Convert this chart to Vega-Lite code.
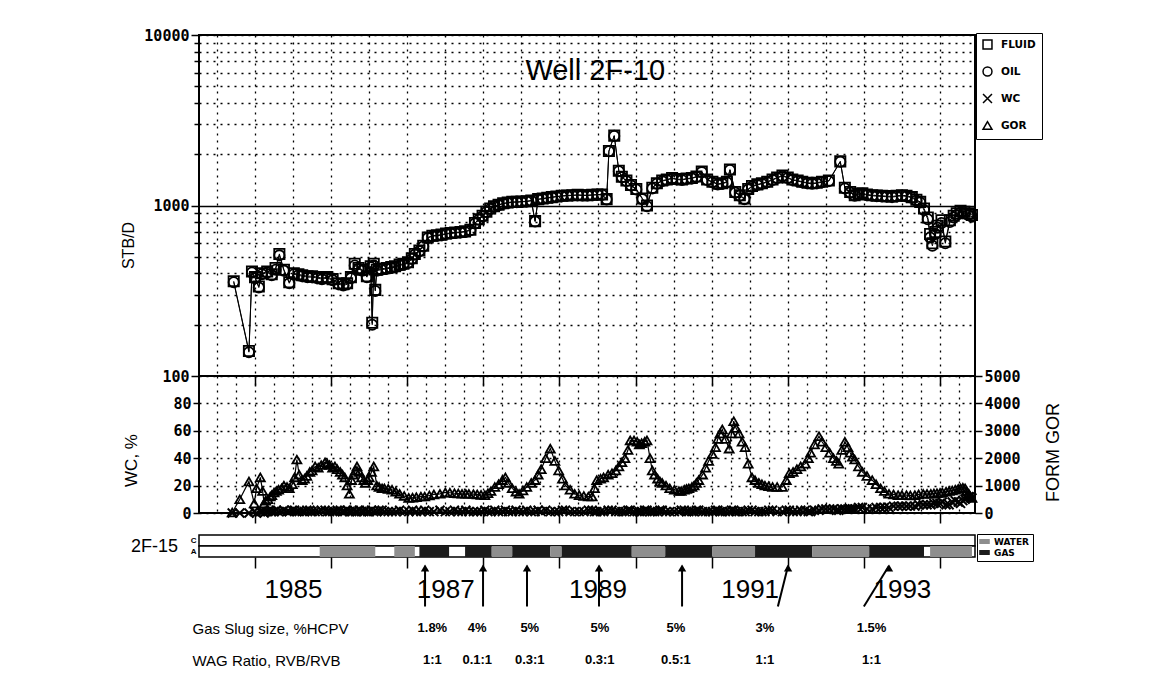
{
  "$schema": "https://vega.github.io/schema/vega-lite/v6.json",
  "background": "white",
  "padding": {"left": 119, "top": 27, "right": 5, "bottom": 0},
  "config": {
    "font": "Liberation Sans",
    "view": {"stroke": "black", "strokeWidth": 2},
    "axis": {"domainColor": "black", "tickColor": "black", "labelColor": "black", "titleColor": "black", "gridColor": "black", "labelOverlap": false}
  },
  "spacing": 0,
  "bounds": "flush",
  "resolve": {"scale": {"shape": "independent", "fill": "independent"}, "legend": {"shape": "independent", "fill": "independent"}},
  "datasets": {
    "rate": [
      {"t":1984.72,"FLUID":360,"OIL":355},{"t":1984.92,"FLUID":140,"OIL":138},{"t":1984.96,"FLUID":410,"OIL":405},
      {"t":1985.00,"FLUID":380,"OIL":375},{"t":1985.05,"FLUID":335,"OIL":330},{"t":1985.09,"FLUID":400,"OIL":395},
      {"t":1985.16,"FLUID":410,"OIL":405},{"t":1985.22,"FLUID":395,"OIL":390},{"t":1985.27,"FLUID":430,"OIL":420},
      {"t":1985.32,"FLUID":520,"OIL":510},{"t":1985.38,"FLUID":420,"OIL":415},{"t":1985.45,"FLUID":355,"OIL":350},
      {"t":1985.51,"FLUID":400,"OIL":395},{"t":1985.57,"FLUID":395,"OIL":390},{"t":1985.62,"FLUID":390,"OIL":385},
      {"t":1985.69,"FLUID":385,"OIL":380},{"t":1985.75,"FLUID":385,"OIL":380},{"t":1985.82,"FLUID":380,"OIL":375},
      {"t":1985.88,"FLUID":375,"OIL":370},{"t":1985.95,"FLUID":380,"OIL":375},{"t":1986.02,"FLUID":370,"OIL":365},
      {"t":1986.10,"FLUID":350,"OIL":345},{"t":1986.16,"FLUID":345,"OIL":340},{"t":1986.21,"FLUID":350,"OIL":345},
      {"t":1986.26,"FLUID":380,"OIL":375},{"t":1986.31,"FLUID":455,"OIL":445},{"t":1986.36,"FLUID":430,"OIL":425},
      {"t":1986.41,"FLUID":420,"OIL":415},{"t":1986.47,"FLUID":385,"OIL":380},{"t":1986.52,"FLUID":440,"OIL":435},
      {"t":1986.54,"FLUID":205,"OIL":200},{"t":1986.56,"FLUID":455,"OIL":445},{"t":1986.58,"FLUID":320,"OIL":315},
      {"t":1986.60,"FLUID":420,"OIL":415},{"t":1986.66,"FLUID":425,"OIL":420},{"t":1986.73,"FLUID":430,"OIL":425},
      {"t":1986.79,"FLUID":435,"OIL":430},{"t":1986.84,"FLUID":440,"OIL":435},{"t":1986.90,"FLUID":450,"OIL":445},
      {"t":1986.95,"FLUID":455,"OIL":450},{"t":1987.01,"FLUID":465,"OIL":460},{"t":1987.06,"FLUID":490,"OIL":485},
      {"t":1987.10,"FLUID":520,"OIL":515},{"t":1987.16,"FLUID":545,"OIL":540},{"t":1987.21,"FLUID":580,"OIL":575},
      {"t":1987.27,"FLUID":650,"OIL":645},{"t":1987.33,"FLUID":665,"OIL":660},{"t":1987.39,"FLUID":670,"OIL":665},
      {"t":1987.45,"FLUID":675,"OIL":670},{"t":1987.51,"FLUID":685,"OIL":680},{"t":1987.57,"FLUID":690,"OIL":685},
      {"t":1987.63,"FLUID":695,"OIL":690},{"t":1987.70,"FLUID":700,"OIL":695},{"t":1987.76,"FLUID":705,"OIL":700},
      {"t":1987.83,"FLUID":720,"OIL":715},{"t":1987.89,"FLUID":790,"OIL":785},{"t":1987.94,"FLUID":830,"OIL":825},
      {"t":1987.99,"FLUID":870,"OIL":865},{"t":1988.04,"FLUID":920,"OIL":915},{"t":1988.09,"FLUID":960,"OIL":955},
      {"t":1988.14,"FLUID":990,"OIL":985},{"t":1988.20,"FLUID":1010,"OIL":1005},{"t":1988.26,"FLUID":1030,"OIL":1025},
      {"t":1988.32,"FLUID":1040,"OIL":1035},{"t":1988.38,"FLUID":1050,"OIL":1045},{"t":1988.44,"FLUID":1050,"OIL":1045},
      {"t":1988.50,"FLUID":1055,"OIL":1050},{"t":1988.57,"FLUID":1060,"OIL":1055},{"t":1988.63,"FLUID":1070,"OIL":1065},
      {"t":1988.68,"FLUID":810,"OIL":805},{"t":1988.72,"FLUID":1090,"OIL":1085},{"t":1988.78,"FLUID":1100,"OIL":1095},
      {"t":1988.84,"FLUID":1110,"OIL":1105},{"t":1988.90,"FLUID":1120,"OIL":1115},{"t":1988.96,"FLUID":1130,"OIL":1125},
      {"t":1989.03,"FLUID":1140,"OIL":1135},{"t":1989.10,"FLUID":1145,"OIL":1140},{"t":1989.17,"FLUID":1150,"OIL":1145},
      {"t":1989.24,"FLUID":1155,"OIL":1150},{"t":1989.30,"FLUID":1150,"OIL":1145},{"t":1989.37,"FLUID":1150,"OIL":1145},
      {"t":1989.43,"FLUID":1155,"OIL":1150},{"t":1989.50,"FLUID":1160,"OIL":1155},{"t":1989.56,"FLUID":1160,"OIL":1155},
      {"t":1989.62,"FLUID":1090,"OIL":1085},{"t":1989.65,"FLUID":2090,"OIL":2080},{"t":1989.72,"FLUID":2570,"OIL":2560},
      {"t":1989.78,"FLUID":1600,"OIL":1590},{"t":1989.82,"FLUID":1475,"OIL":1465},{"t":1989.88,"FLUID":1400,"OIL":1390},
      {"t":1989.94,"FLUID":1320,"OIL":1310},{"t":1990.01,"FLUID":1250,"OIL":1240},{"t":1990.09,"FLUID":1100,"OIL":1090},
      {"t":1990.15,"FLUID":1000,"OIL":990},{"t":1990.22,"FLUID":1270,"OIL":1260},{"t":1990.28,"FLUID":1350,"OIL":1340},
      {"t":1990.35,"FLUID":1400,"OIL":1390},{"t":1990.41,"FLUID":1420,"OIL":1410},{"t":1990.48,"FLUID":1450,"OIL":1440},
      {"t":1990.54,"FLUID":1430,"OIL":1420},{"t":1990.61,"FLUID":1420,"OIL":1410},{"t":1990.67,"FLUID":1440,"OIL":1430},
      {"t":1990.74,"FLUID":1450,"OIL":1440},{"t":1990.80,"FLUID":1480,"OIL":1470},{"t":1990.87,"FLUID":1580,"OIL":1570},
      {"t":1990.94,"FLUID":1420,"OIL":1410},{"t":1991.01,"FLUID":1380,"OIL":1370},{"t":1991.08,"FLUID":1340,"OIL":1330},
      {"t":1991.14,"FLUID":1350,"OIL":1340},{"t":1991.20,"FLUID":1380,"OIL":1370},{"t":1991.24,"FLUID":1625,"OIL":1615},
      {"t":1991.31,"FLUID":1200,"OIL":1190},{"t":1991.37,"FLUID":1150,"OIL":1140},{"t":1991.43,"FLUID":1100,"OIL":1090},
      {"t":1991.48,"FLUID":1250,"OIL":1240},{"t":1991.53,"FLUID":1300,"OIL":1290},{"t":1991.60,"FLUID":1330,"OIL":1320},
      {"t":1991.66,"FLUID":1350,"OIL":1340},{"t":1991.73,"FLUID":1380,"OIL":1370},{"t":1991.80,"FLUID":1420,"OIL":1410},
      {"t":1991.86,"FLUID":1460,"OIL":1450},{"t":1991.93,"FLUID":1500,"OIL":1490},{"t":1992.00,"FLUID":1460,"OIL":1450},
      {"t":1992.06,"FLUID":1420,"OIL":1410},{"t":1992.13,"FLUID":1400,"OIL":1390},{"t":1992.19,"FLUID":1380,"OIL":1370},
      {"t":1992.26,"FLUID":1360,"OIL":1350},{"t":1992.32,"FLUID":1350,"OIL":1340},{"t":1992.38,"FLUID":1360,"OIL":1350},
      {"t":1992.45,"FLUID":1380,"OIL":1370},{"t":1992.54,"FLUID":1400,"OIL":1390},{"t":1992.69,"FLUID":1815,"OIL":1805},
      {"t":1992.75,"FLUID":1270,"OIL":1260},{"t":1992.82,"FLUID":1200,"OIL":1190},{"t":1992.88,"FLUID":1150,"OIL":1140},
      {"t":1992.93,"FLUID":1170,"OIL":1160},{"t":1992.98,"FLUID":1180,"OIL":1170},{"t":1993.04,"FLUID":1160,"OIL":1150},
      {"t":1993.11,"FLUID":1150,"OIL":1140},{"t":1993.17,"FLUID":1145,"OIL":1135},{"t":1993.24,"FLUID":1140,"OIL":1130},
      {"t":1993.30,"FLUID":1135,"OIL":1125},{"t":1993.37,"FLUID":1130,"OIL":1120},{"t":1993.43,"FLUID":1140,"OIL":1130},
      {"t":1993.50,"FLUID":1150,"OIL":1140},{"t":1993.56,"FLUID":1140,"OIL":1130},{"t":1993.63,"FLUID":1120,"OIL":1110},
      {"t":1993.69,"FLUID":1080,"OIL":1070},{"t":1993.74,"FLUID":1050,"OIL":1040},{"t":1993.79,"FLUID":960,"OIL":940},
      {"t":1993.84,"FLUID":850,"OIL":830},{"t":1993.87,"FLUID":680,"OIL":650},{"t":1993.90,"FLUID":600,"OIL":580},
      {"t":1993.94,"FLUID":700,"OIL":680},{"t":1993.97,"FLUID":760,"OIL":740},{"t":1994.02,"FLUID":820,"OIL":790},
      {"t":1994.07,"FLUID":615,"OIL":600},{"t":1994.13,"FLUID":820,"OIL":800},{"t":1994.18,"FLUID":870,"OIL":850},
      {"t":1994.22,"FLUID":900,"OIL":880},{"t":1994.27,"FLUID":930,"OIL":910},{"t":1994.32,"FLUID":920,"OIL":900},
      {"t":1994.37,"FLUID":900,"OIL":880},{"t":1994.42,"FLUID":880,"OIL":860}
    ],
    "gor": [
      {"t":1984.70,"WC":0,"GOR":20},{"t":1984.80,"WC":0,"GOR":500},{"t":1984.92,"WC":0,"GOR":1150},
      {"t":1984.99,"WC":1,"GOR":350},{"t":1985.02,"WC":0,"GOR":900},{"t":1985.07,"WC":1,"GOR":1300},
      {"t":1985.10,"WC":1,"GOR":800},{"t":1985.12,"WC":0,"GOR":350},{"t":1985.14,"WC":1,"GOR":450},
      {"t":1985.17,"WC":1,"GOR":500},{"t":1985.20,"WC":2,"GOR":600},{"t":1985.22,"WC":1,"GOR":650},
      {"t":1985.25,"WC":1,"GOR":750},{"t":1985.28,"WC":2,"GOR":800},{"t":1985.31,"WC":1,"GOR":850},
      {"t":1985.35,"WC":1,"GOR":900},{"t":1985.38,"WC":2,"GOR":1000},{"t":1985.42,"WC":1,"GOR":950},
      {"t":1985.45,"WC":1,"GOR":900},{"t":1985.49,"WC":2,"GOR":1050},{"t":1985.52,"WC":2,"GOR":1300},
      {"t":1985.55,"WC":1,"GOR":1950},{"t":1985.58,"WC":1,"GOR":1400},{"t":1985.62,"WC":1,"GOR":1200},
      {"t":1985.65,"WC":1,"GOR":1250},{"t":1985.68,"WC":2,"GOR":1350},{"t":1985.72,"WC":2,"GOR":1500},
      {"t":1985.75,"WC":1,"GOR":1550},{"t":1985.79,"WC":1,"GOR":1700},{"t":1985.83,"WC":1,"GOR":1650},
      {"t":1985.87,"WC":2,"GOR":1750},{"t":1985.92,"WC":2,"GOR":1850},{"t":1985.95,"WC":1,"GOR":1800},
      {"t":1985.98,"WC":1,"GOR":1750},{"t":1986.02,"WC":1,"GOR":1650},{"t":1986.05,"WC":1,"GOR":1700},
      {"t":1986.08,"WC":2,"GOR":1600},{"t":1986.12,"WC":2,"GOR":1500},{"t":1986.15,"WC":1,"GOR":1400},
      {"t":1986.18,"WC":1,"GOR":1300},{"t":1986.21,"WC":2,"GOR":1000},{"t":1986.24,"WC":1,"GOR":700},
      {"t":1986.27,"WC":1,"GOR":1200},{"t":1986.29,"WC":2,"GOR":1400},{"t":1986.32,"WC":1,"GOR":1550},
      {"t":1986.34,"WC":1,"GOR":1700},{"t":1986.37,"WC":2,"GOR":1500},{"t":1986.40,"WC":1,"GOR":1300},
      {"t":1986.43,"WC":1,"GOR":1200},{"t":1986.45,"WC":2,"GOR":1100},{"t":1986.48,"WC":1,"GOR":1200},
      {"t":1986.50,"WC":1,"GOR":1300},{"t":1986.53,"WC":2,"GOR":1500},{"t":1986.56,"WC":1,"GOR":1700},
      {"t":1986.60,"WC":1,"GOR":1000},{"t":1986.63,"WC":2,"GOR":950},{"t":1986.67,"WC":2,"GOR":900},
      {"t":1986.70,"WC":1,"GOR":900},{"t":1986.75,"WC":1,"GOR":880},{"t":1986.80,"WC":1,"GOR":850},
      {"t":1986.85,"WC":1,"GOR":780},{"t":1986.90,"WC":2,"GOR":700},{"t":1986.96,"WC":1,"GOR":620},
      {"t":1987.02,"WC":1,"GOR":550},{"t":1987.07,"WC":2,"GOR":560},{"t":1987.12,"WC":1,"GOR":580},
      {"t":1987.18,"WC":1,"GOR":600},{"t":1987.23,"WC":2,"GOR":600},{"t":1987.29,"WC":1,"GOR":640},
      {"t":1987.35,"WC":1,"GOR":680},{"t":1987.43,"WC":2,"GOR":700},{"t":1987.50,"WC":1,"GOR":750},
      {"t":1987.56,"WC":1,"GOR":740},{"t":1987.62,"WC":2,"GOR":720},{"t":1987.67,"WC":1,"GOR":710},
      {"t":1987.72,"WC":1,"GOR":700},{"t":1987.77,"WC":2,"GOR":700},{"t":1987.81,"WC":1,"GOR":700},
      {"t":1987.87,"WC":1,"GOR":690},{"t":1987.92,"WC":1,"GOR":680},{"t":1987.97,"WC":1,"GOR":660},
      {"t":1988.02,"WC":2,"GOR":650},{"t":1988.06,"WC":1,"GOR":720},{"t":1988.10,"WC":1,"GOR":800},
      {"t":1988.15,"WC":2,"GOR":950},{"t":1988.20,"WC":1,"GOR":1050},{"t":1988.25,"WC":1,"GOR":1200},
      {"t":1988.29,"WC":2,"GOR":1300},{"t":1988.33,"WC":1,"GOR":1100},{"t":1988.38,"WC":1,"GOR":900},
      {"t":1988.43,"WC":2,"GOR":780},{"t":1988.47,"WC":1,"GOR":700},{"t":1988.52,"WC":1,"GOR":820},
      {"t":1988.57,"WC":2,"GOR":950},{"t":1988.63,"WC":1,"GOR":1100},{"t":1988.68,"WC":1,"GOR":1200},
      {"t":1988.72,"WC":2,"GOR":1400},{"t":1988.76,"WC":1,"GOR":1600},{"t":1988.82,"WC":2,"GOR":2000},
      {"t":1988.88,"WC":1,"GOR":2350},{"t":1988.94,"WC":1,"GOR":1900},{"t":1988.99,"WC":1,"GOR":1550},
      {"t":1989.04,"WC":2,"GOR":1250},{"t":1989.08,"WC":2,"GOR":1000},{"t":1989.14,"WC":1,"GOR":850},
      {"t":1989.20,"WC":1,"GOR":700},{"t":1989.26,"WC":1,"GOR":650},{"t":1989.32,"WC":1,"GOR":620},
      {"t":1989.38,"WC":2,"GOR":600},{"t":1989.43,"WC":2,"GOR":600},{"t":1989.46,"WC":1,"GOR":900},
      {"t":1989.49,"WC":1,"GOR":1200},{"t":1989.54,"WC":1,"GOR":1250},{"t":1989.58,"WC":1,"GOR":1300},
      {"t":1989.64,"WC":2,"GOR":1400},{"t":1989.69,"WC":2,"GOR":1450},{"t":1989.74,"WC":1,"GOR":1550},
      {"t":1989.78,"WC":1,"GOR":1700},{"t":1989.82,"WC":1,"GOR":1850},{"t":1989.86,"WC":1,"GOR":2000},
      {"t":1989.90,"WC":2,"GOR":2300},{"t":1989.93,"WC":2,"GOR":2650},{"t":1989.98,"WC":1,"GOR":2650},
      {"t":1990.02,"WC":1,"GOR":2600},{"t":1990.05,"WC":1,"GOR":2500},{"t":1990.08,"WC":1,"GOR":2550},
      {"t":1990.12,"WC":2,"GOR":2600},{"t":1990.15,"WC":2,"GOR":2650},{"t":1990.19,"WC":1,"GOR":2000},
      {"t":1990.22,"WC":1,"GOR":1550},{"t":1990.25,"WC":1,"GOR":1400},{"t":1990.29,"WC":1,"GOR":1250},
      {"t":1990.32,"WC":2,"GOR":1150},{"t":1990.35,"WC":2,"GOR":1100},{"t":1990.40,"WC":1,"GOR":1000},
      {"t":1990.45,"WC":1,"GOR":900},{"t":1990.51,"WC":1,"GOR":850},{"t":1990.57,"WC":1,"GOR":800},
      {"t":1990.60,"WC":2,"GOR":800},{"t":1990.64,"WC":2,"GOR":850},{"t":1990.67,"WC":1,"GOR":880},
      {"t":1990.70,"WC":1,"GOR":900},{"t":1990.74,"WC":1,"GOR":950},{"t":1990.77,"WC":1,"GOR":1000},
      {"t":1990.80,"WC":2,"GOR":1100},{"t":1990.83,"WC":2,"GOR":1200},{"t":1990.88,"WC":1,"GOR":1400},
      {"t":1990.92,"WC":1,"GOR":1650},{"t":1990.96,"WC":1,"GOR":1900},{"t":1991.01,"WC":1,"GOR":2150},
      {"t":1991.05,"WC":2,"GOR":2400},{"t":1991.08,"WC":2,"GOR":2700},{"t":1991.11,"WC":1,"GOR":2900},
      {"t":1991.14,"WC":1,"GOR":3050},{"t":1991.18,"WC":1,"GOR":2700},{"t":1991.23,"WC":1,"GOR":2350},
      {"t":1991.26,"WC":2,"GOR":2900},{"t":1991.29,"WC":2,"GOR":3350},{"t":1991.32,"WC":1,"GOR":3100},
      {"t":1991.36,"WC":1,"GOR":2900},{"t":1991.40,"WC":1,"GOR":2600},{"t":1991.44,"WC":1,"GOR":2400},
      {"t":1991.48,"WC":2,"GOR":1800},{"t":1991.53,"WC":2,"GOR":1300},{"t":1991.57,"WC":1,"GOR":1200},
      {"t":1991.62,"WC":1,"GOR":1100},{"t":1991.66,"WC":1,"GOR":1050},{"t":1991.70,"WC":1,"GOR":1000},
      {"t":1991.75,"WC":2,"GOR":980},{"t":1991.80,"WC":2,"GOR":950},{"t":1991.86,"WC":1,"GOR":950},
      {"t":1991.93,"WC":1,"GOR":950},{"t":1991.98,"WC":2,"GOR":1200},{"t":1992.02,"WC":2,"GOR":1450},
      {"t":1992.07,"WC":1,"GOR":1500},{"t":1992.12,"WC":1,"GOR":1600},{"t":1992.17,"WC":2,"GOR":1700},
      {"t":1992.23,"WC":2,"GOR":1800},{"t":1992.27,"WC":1,"GOR":2000},{"t":1992.30,"WC":1,"GOR":2200},
      {"t":1992.35,"WC":2,"GOR":2500},{"t":1992.41,"WC":2,"GOR":2800},{"t":1992.45,"WC":3,"GOR":2600},
      {"t":1992.50,"WC":3,"GOR":2400},{"t":1992.55,"WC":3,"GOR":2200},{"t":1992.60,"WC":3,"GOR":2000},
      {"t":1992.64,"WC":2,"GOR":1900},{"t":1992.67,"WC":2,"GOR":1800},{"t":1992.71,"WC":3,"GOR":2300},
      {"t":1992.75,"WC":3,"GOR":2600},{"t":1992.79,"WC":3,"GOR":2400},{"t":1992.82,"WC":3,"GOR":2200},
      {"t":1992.85,"WC":3,"GOR":2050},{"t":1992.88,"WC":3,"GOR":1950},{"t":1992.93,"WC":4,"GOR":1700},
      {"t":1992.98,"WC":4,"GOR":1500},{"t":1993.04,"WC":3,"GOR":1350},{"t":1993.11,"WC":3,"GOR":1200},
      {"t":1993.16,"WC":4,"GOR":1050},{"t":1993.22,"WC":4,"GOR":900},{"t":1993.27,"WC":4,"GOR":800},
      {"t":1993.33,"WC":4,"GOR":700},{"t":1993.39,"WC":5,"GOR":680},{"t":1993.45,"WC":5,"GOR":650},
      {"t":1993.50,"WC":5,"GOR":650},{"t":1993.56,"WC":5,"GOR":650},{"t":1993.61,"WC":5,"GOR":640},
      {"t":1993.67,"WC":5,"GOR":650},{"t":1993.72,"WC":6,"GOR":680},{"t":1993.78,"WC":6,"GOR":700},
      {"t":1993.83,"WC":6,"GOR":700},{"t":1993.88,"WC":6,"GOR":700},{"t":1993.92,"WC":7,"GOR":710},
      {"t":1993.96,"WC":7,"GOR":720},{"t":1994.00,"WC":7,"GOR":730},{"t":1994.03,"WC":8,"GOR":750},
      {"t":1994.08,"WC":6,"GOR":780},{"t":1994.12,"WC":6,"GOR":800},{"t":1994.16,"WC":8,"GOR":820},
      {"t":1994.20,"WC":9,"GOR":850},{"t":1994.24,"WC":8,"GOR":880},{"t":1994.27,"WC":7,"GOR":900},
      {"t":1994.30,"WC":9,"GOR":920},{"t":1994.33,"WC":10,"GOR":900},{"t":1994.35,"WC":11,"GOR":800},
      {"t":1994.38,"WC":12,"GOR":700},{"t":1994.40,"WC":12,"GOR":600},{"t":1994.42,"WC":11,"GOR":550}
    ],
    "inj": [
      {"start":1985.85,"end":1986.58,"fluid":"WATER"},
      {"start":1986.83,"end":1987.10,"fluid":"WATER"},
      {"start":1987.16,"end":1987.55,"fluid":"GAS"},
      {"start":1987.76,"end":1988.11,"fluid":"GAS"},
      {"start":1988.11,"end":1988.38,"fluid":"WATER"},
      {"start":1988.38,"end":1988.88,"fluid":"GAS"},
      {"start":1988.88,"end":1989.03,"fluid":"WATER"},
      {"start":1989.03,"end":1989.95,"fluid":"GAS"},
      {"start":1989.95,"end":1990.39,"fluid":"WATER"},
      {"start":1990.39,"end":1991.01,"fluid":"GAS"},
      {"start":1991.01,"end":1991.57,"fluid":"WATER"},
      {"start":1991.57,"end":1992.32,"fluid":"GAS"},
      {"start":1992.32,"end":1993.07,"fluid":"WATER"},
      {"start":1993.07,"end":1993.79,"fluid":"GAS"},
      {"start":1993.87,"end":1994.42,"fluid":"WATER"}
    ],
    "slug": [
      {"tip":1987.234,"tail":1987.234,"at":1987.33,"slug":"1.8%","wag":"1:1"},
      {"tip":1987.996,"tail":1987.996,"at":1987.92,"slug":"4%","wag":"0.1:1"},
      {"tip":1988.574,"tail":1988.574,"at":1988.61,"slug":"5%","wag":"0.3:1"},
      {"tip":1989.52,"tail":1989.52,"at":1989.53,"slug":"5%","wag":"0.3:1"},
      {"tip":1990.611,"tail":1990.611,"at":1990.53,"slug":"5%","wag":"0.5:1"},
      {"tip":1992.004,"tail":1991.87,"at":1991.70,"slug":"3%","wag":"1:1"},
      {"tip":1993.33,"tail":1993.0,"at":1993.10,"slug":"1.5%","wag":"1:1"}
    ]
  },
  "vconcat": [
    {
      "width": 776, "height": 341,
      "resolve": {"scale": {"y": "independent"}},
      "layer": [
        {
          "data": {"name": "rate"},
          "transform": [{"fold": ["FLUID", "OIL"], "as": ["series", "value"]}],
          "encoding": {
            "x": {"field": "t", "type": "quantitative",
              "scale": {"domain": [1984.264, 1994.46], "nice": false, "zero": false},
              "axis": {"values": [1984.5,1984.75,1985,1985.25,1985.5,1985.75,1986,1986.25,1986.5,1986.75,1987,1987.25,1987.5,1987.75,1988,1988.25,1988.5,1988.75,1989,1989.25,1989.5,1989.75,1990,1990.25,1990.5,1990.75,1991,1991.25,1991.5,1991.75,1992,1992.25,1992.5,1992.75,1993,1993.25,1993.5,1993.75,1994,1994.25],
                "grid": true, "gridDash": [2, 5], "gridWidth": 1.3, "ticks": false, "labels": false, "domain": false, "title": null}},
            "y": {"field": "value", "type": "quantitative",
              "scale": {"type": "log", "domain": [100, 10000], "nice": false},
              "axis": {"values": [100,200,300,400,500,600,700,800,900,1000,2000,3000,4000,5000,6000,7000,8000,9000,10000],
                "labelExpr": "datum.value == 100 || datum.value == 1000 || datum.value == 10000 ? format(datum.value, 'd') : ''",
                "labelFont": "DejaVu Sans Mono", "labelFontWeight": "bold", "labelFontSize": 15, "labelPadding": 2,
                "tickSize": {"condition": {"test": "datum.value == 100 || datum.value == 1000 || datum.value == 10000", "value": 8}, "value": 5},
                "tickWidth": 1.5,
                "grid": true,
                "gridDash": {"condition": {"test": "datum.value == 1000", "value": []}, "value": [2, 5]},
                "gridWidth": 1.3,
                "domain": false,
                "title": "STB/D", "titleFontSize": 16, "titleFontWeight": "normal", "titleX": -63, "titleY": 210}}
          },
          "layer": [
            {"mark": {"type": "line", "color": "black", "strokeWidth": 1}, "encoding": {"detail": {"field": "series", "type": "nominal"}}},
            {"mark": {"type": "point", "filled": false, "color": "black", "strokeWidth": 1.8, "opacity": 1, "size": 105},
              "encoding": {"shape": {"field": "series", "type": "nominal",
                "scale": {"domain": ["FLUID", "OIL", "WC", "GOR"], "range": ["square", "circle", "M-1,-1L1,1M-1,1L1,-1", "triangle-up"]},
                "legend": {"orient": "none", "legendX": 777, "legendY": -2, "title": null, "strokeColor": "black", "padding": 6,
                  "labelFont": "DejaVu Sans", "labelFontWeight": "bold", "labelFontSize": 10.5, "labelColor": "black",
                  "symbolSize": 80, "symbolStrokeWidth": 1.5, "symbolStrokeColor": "black", "symbolFillColor": "white", "rowPadding": 12, "labelOffset": 8}}}}
          ]
        },
        {
          "data": {"values": [{"label": "Well 2F-10"}]},
          "mark": {"type": "text", "fontSize": 29, "font": "Liberation Sans", "color": "black", "align": "center", "baseline": "middle"},
          "encoding": {
            "x": {"datum": 1989.47, "type": "quantitative"},
            "y": {"datum": 0.895, "type": "quantitative", "scale": {"domain": [0, 1], "nice": false, "zero": false}, "axis": null},
            "text": {"field": "label", "type": "nominal"}
          }
        }
      ]
    },
    {
      "width": 776, "height": 137,
      "data": {"name": "gor"},
      "resolve": {"scale": {"y": "independent"}, "axis": {"x": "independent"}},
      "layer": [
        {
          "encoding": {
            "x": {"field": "t", "type": "quantitative",
              "scale": {"domain": [1984.264, 1994.46], "nice": false, "zero": false},
              "axis": {"orient": "bottom", "values": [1984.5,1984.75,1985,1985.25,1985.5,1985.75,1986,1986.25,1986.5,1986.75,1987,1987.25,1987.5,1987.75,1988,1988.25,1988.5,1988.75,1989,1989.25,1989.5,1989.75,1990,1990.25,1990.5,1990.75,1991,1991.25,1991.5,1991.75,1992,1992.25,1992.5,1992.75,1993,1993.25,1993.5,1993.75,1994,1994.25],
                "grid": true, "gridDash": [2, 5], "gridWidth": 1.3, "labels": false, "domain": false, "title": null, "tickWidth": 1.5,
                "tickSize": {"condition": {"test": "datum.value % 1 == 0", "value": 10}, "value": 0}}},
            "y": {"field": "WC", "type": "quantitative", "scale": {"domain": [0, 100], "nice": false},
              "axis": {"values": [0, 20, 40, 60, 80], "labelFont": "DejaVu Sans Mono", "labelFontWeight": "bold", "labelFontSize": 15,
                "tickSize": 6, "tickWidth": 1.5, "labelPadding": 2, "grid": true, "gridDash": [2, 5], "gridWidth": 1.3, "domain": false,
                "title": "WC, %", "titleFontSize": 17, "titleFontWeight": "normal", "titleX": -59, "titleY": 84}}
          },
          "layer": [
            {"mark": {"type": "line", "color": "black", "strokeWidth": 1}},
            {"mark": {"type": "point", "shape": "M-1,-1L1,1M-1,1L1,-1", "filled": false, "color": "black", "strokeWidth": 2, "opacity": 1, "size": 80}}
          ]
        },
        {
          "encoding": {
            "x": {"field": "t", "type": "quantitative",
              "scale": {"domain": [1984.264, 1994.46], "nice": false, "zero": false},
              "axis": {"orient": "top", "values": [1985,1986,1987,1988,1989,1990,1991,1992,1993,1994], "tickSize": -10, "tickWidth": 1.5,
                "labels": false, "domain": false, "grid": false, "title": null}},
            "y": {"field": "GOR", "type": "quantitative", "scale": {"domain": [0, 5000], "nice": false},
              "axis": {"orient": "right", "values": [0, 1000, 2000, 3000, 4000, 5000], "format": "d", "labelFont": "DejaVu Sans Mono", "labelFontWeight": "bold", "labelFontSize": 15,
                "tickSize": 7, "tickWidth": 1.5, "labelPadding": 2, "grid": false, "domain": false,
                "title": "FORM GOR", "titleFontSize": 18, "titleFontWeight": "normal", "titleAngle": 270, "titleX": 87, "titleY": 76}}
          },
          "layer": [
            {"mark": {"type": "line", "color": "black", "strokeWidth": 1.2}},
            {"mark": {"type": "point", "shape": "triangle-up", "filled": false, "color": "black", "strokeWidth": 1.8, "opacity": 1, "size": 80}}
          ]
        }
      ]
    },
    {
      "width": 776, "height": 99,
      "view": {"stroke": null},
      "layer": [
        {
          "data": {"values": [{"row": "C"}]},
          "mark": {"type": "rect", "fill": "white", "stroke": "black", "strokeWidth": 1.5},
          "encoding": {
            "x": {"datum": 1984.264, "type": "quantitative",
              "scale": {"domain": [1984.264, 1994.46], "nice": false, "zero": false},
              "axis": {"orient": "bottom", "offset": -55, "values": [1985,1986,1987,1988,1989,1990,1991,1992,1993,1994],
                "labelExpr": "datum.value % 2 == 1 ? format(datum.value, 'd') : ''", "labelOffset": 38, "labelFontSize": 26,
                "labelFont": "Liberation Sans", "labelPadding": 8, "tickSize": 11, "tickWidth": 1.5, "domain": false, "grid": false, "title": null}},
            "x2": {"datum": 1994.46},
            "y": {"datum": 1, "type": "quantitative", "scale": {"domain": [-5, 4], "nice": false, "zero": false},
              "axis": {"values": [0.5, 1.5], "labelExpr": "datum.value > 1 ? 'C' : 'A'", "labelFontSize": 8, "labelFontWeight": "bold",
                "ticks": false, "tickSize": 0, "labelPadding": 3, "domain": false, "grid": false,
                "title": "2F-15", "titleAngle": 0, "titleFontSize": 18, "titleFontWeight": "normal", "titleX": -45, "titleY": 33, "titleAlign": "center", "titleBaseline": "middle"}},
            "y2": {"datum": 2}
          }
        },
        {
          "data": {"values": [{"row": "A"}]},
          "mark": {"type": "rect", "fill": "white", "stroke": "black", "strokeWidth": 1.5},
          "encoding": {
            "x": {"datum": 1984.264, "type": "quantitative"},
            "x2": {"datum": 1994.46},
            "y": {"datum": 0, "type": "quantitative"},
            "y2": {"datum": 1}
          }
        },
        {
          "data": {"name": "inj"},
          "mark": {"type": "rect"},
          "encoding": {
            "x": {"field": "start", "type": "quantitative"},
            "x2": {"field": "end"},
            "y": {"datum": 0, "type": "quantitative"},
            "y2": {"datum": 1},
            "fill": {"field": "fluid", "type": "nominal",
              "scale": {"domain": ["WATER", "GAS"], "range": ["#8e8e8e", "#1c1c1c"]},
              "legend": {"orient": "none", "legendX": 778, "legendY": 21, "title": null, "strokeColor": "black", "padding": 3, "rowPadding": 1,
                "labelFont": "DejaVu Sans", "labelFontWeight": "bold", "labelFontSize": 9, "labelColor": "black",
                "symbolType": "M-1.5,-0.7H1.5V0.7H-1.5Z", "symbolSize": 50, "symbolStrokeWidth": 0, "labelOffset": 5}}
          }
        },
        {
          "data": {"name": "slug"},
          "mark": {"type": "rule", "color": "black", "strokeWidth": 2},
          "encoding": {
            "x": {"field": "tail", "type": "quantitative"},
            "x2": {"field": "tip"},
            "y": {"datum": -4.5, "type": "quantitative"},
            "y2": {"datum": -0.8}
          }
        },
        {
          "data": {"name": "slug"},
          "mark": {"type": "point", "shape": "triangle-up", "filled": true, "color": "black", "size": 70, "opacity": 1},
          "encoding": {
            "x": {"field": "tip", "type": "quantitative"},
            "y": {"datum": -1.0, "type": "quantitative"}
          }
        }
      ]
    },
    {
      "width": 776, "height": 64,
      "view": {"stroke": null},
      "data": {"name": "slug"},
      "transform": [{"fold": ["slug", "wag"], "as": ["row", "text"]}],
      "mark": {"type": "text", "fontSize": 13, "fontWeight": "bold", "font": "Liberation Sans", "color": "black"},
      "encoding": {
        "x": {"field": "at", "type": "quantitative", "scale": {"domain": [1984.264, 1994.46], "nice": false, "zero": false}, "axis": null},
        "y": {"field": "row", "type": "nominal", "scale": {"domain": ["slug", "wag"]},
          "axis": {"labelExpr": "datum.value == 'slug' ? 'Gas Slug size, %HCPV' : 'WAG Ratio, RVB/RVB'", "labelAlign": "left",
            "labelPadding": 7, "ticks": false, "tickSize": 0, "domain": false, "grid": false, "title": null,
            "labelFontSize": 15, "labelFont": "Liberation Sans"}},
        "text": {"field": "text", "type": "nominal"}
      }
    }
  ]
}
